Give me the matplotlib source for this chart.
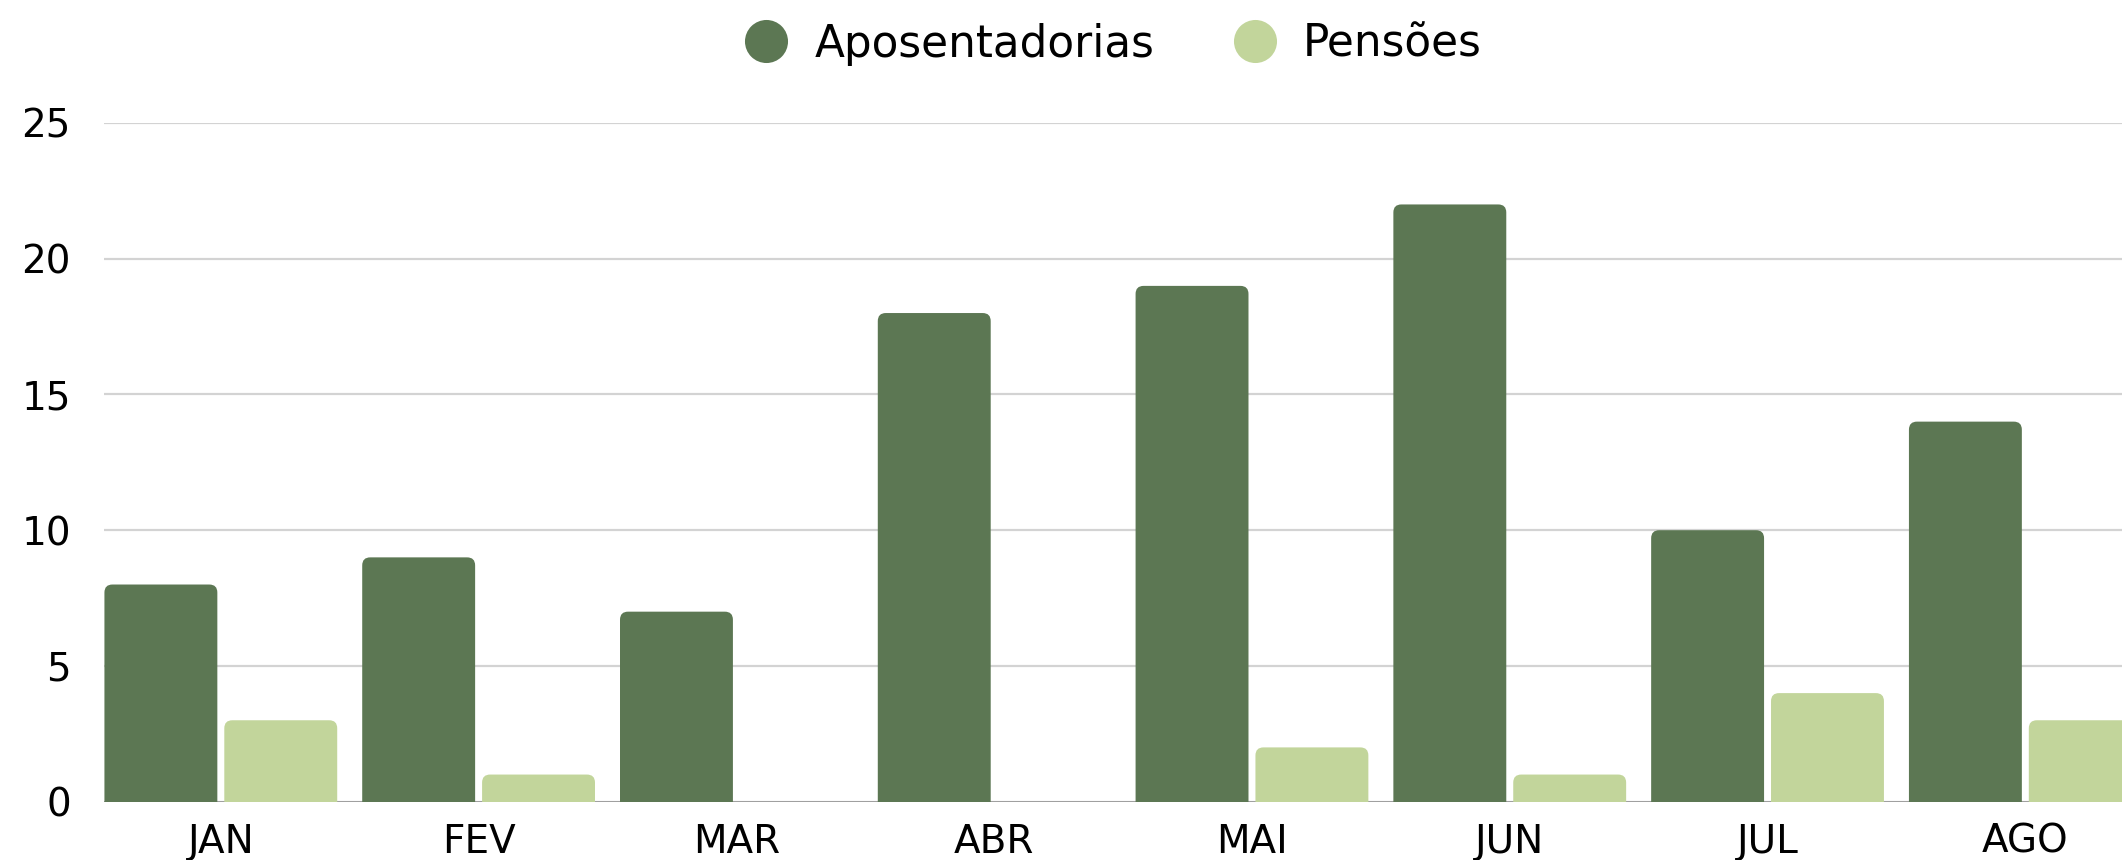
import matplotlib
matplotlib.use("Agg")
import matplotlib.pyplot as plt
from matplotlib.patches import FancyBboxPatch
from matplotlib.lines import Line2D
import numpy as np

months = ["JAN", "FEV", "MAR", "ABR", "MAI", "JUN", "JUL", "AGO"]
aposentadorias = [8, 9, 7, 18, 19, 22, 10, 14]
pensoes = [3, 1, 0, 0, 2, 1, 4, 3]
series_names = ["Aposentadorias", "Pensões"]
colors = ["#5c7753", "#c2d59b"]
yticks = [0, 5, 10, 15, 20, 25]

plt.rcParams['font.family'] = ['DejaVu Sans']

W, H = 2122, 860
fig = plt.figure(figsize=(W / 100, H / 100), dpi=100)
ax_left, ax_bottom, ax_top = 104.3 / W, (H - 801.7) / H, (H - 123) / H
ax = fig.add_axes([ax_left, ax_bottom, 1 - ax_left, ax_top - ax_bottom])

x = np.arange(len(months))
bw = 0.438
gap = 0.027
off = (bw + gap) / 2

ax.set_xlim(-0.452, 7.375)
ax.set_ylim(0, 25)

# pixel scales for rounded corners
px_per_x = 257.8
px_per_y = (801.7 - 123) / 25
aspect = px_per_x / px_per_y
r = 8 / px_per_x

for vals, col, sign in [(aposentadorias, colors[0], -1), (pensoes, colors[1], 1)]:
    bars = ax.bar(x + sign * off, vals, width=bw, color=col, alpha=0)
    for b in bars:
        h = b.get_height()
        if h <= 0:
            continue
        ext = 1.0
        p = FancyBboxPatch((b.get_x(), -ext), b.get_width(), h + ext,
                           boxstyle=f"round,pad=0,rounding_size={r}",
                           mutation_aspect=aspect,
                           facecolor=col, edgecolor='none', zorder=3, clip_on=True)
        ax.add_patch(p)

ax.set_yticks(yticks)
ax.yaxis.grid(True, color="#d3d3d3", linewidth=1.6, zorder=0)
ax.set_axisbelow(True)
ax.axhline(0, color="#9a9a9a", linewidth=2, zorder=1)
for s in ax.spines.values():
    s.set_visible(False)
ax.tick_params(axis='both', length=0, labelsize=28, colors='#000000')
ax.tick_params(axis='y', pad=24)
ax.tick_params(axis='x', pad=15)
ax.set_xticks(x)
ax.set_xticklabels(months)

handles = [Line2D([], [], marker='o', linestyle='none', markersize=31,
                  markerfacecolor=c, markeredgecolor='none') for c in colors]
fig.legend(handles, series_names, loc='center', bbox_to_anchor=(1113 / W, 1 - 44 / H),
           ncol=2, frameon=False, fontsize=31.5, handletextpad=0.6, columnspacing=1.8,
           handlelength=1.0)

fig.savefig("out.png", dpi=100)
